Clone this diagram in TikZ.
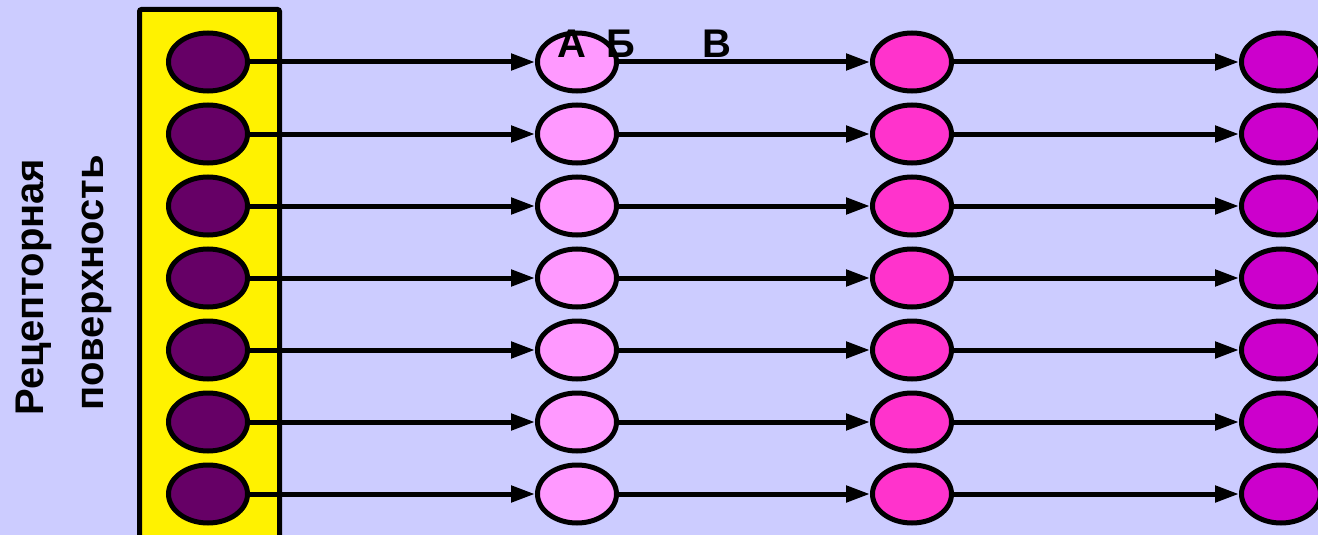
\documentclass[tikz,border=0pt]{standalone}
\usepackage{fontspec}
\setmainfont{Liberation Sans}
\usetikzlibrary{shapes.geometric, arrows.meta}
\definecolor{bgblue}{HTML}{CCCCFF}
\definecolor{plum}{HTML}{660066}
\definecolor{lightpink}{HTML}{FF99FF}
\definecolor{hotpink}{HTML}{FF33CC}
\definecolor{violet}{HTML}{CC00CC}
\tikzstyle{cell} = [ellipse, draw, line width=5pt, minimum width=79pt, minimum height=58pt, inner sep=0pt]
\tikzstyle{conn} = [-{Triangle[length=24pt,width=16pt]}, line width=5pt]
\tikzstyle{lbl} = [font=\fontsize{40}{48}\selectfont\bfseries, inner sep=0pt]

\begin{document}
\begin{tikzpicture}[x=1pt, y=-1pt]
  % background
  \fill[bgblue] (0,0) rectangle (1318,535);
  \useasboundingbox (0,0) rectangle (1318,535);

  % receptor strip
  \draw[line width=5pt, fill=yellow, rounded corners=2pt] (139.5,9.5) rectangle (279.5,550);

  % cells, one row per level
  \foreach \i [evaluate=\i as \yy using 62+72*(\i-1)] in {1,...,7} {
    \node[cell, fill=plum] (r\i) at (208,\yy) {};
    \node[cell, fill=lightpink] (a\i) at (577,\yy) {};
    \node[cell, fill=hotpink] (b\i) at (912,\yy) {};
    \node[cell, fill=violet] (c\i) at (1281,\yy) {};
  }

  % pathways
  \foreach \i in {1,...,7} {
    \draw[conn] (r\i) -- (a\i);
    \draw[conn] (a\i) -- (b\i);
    \draw[conn] (b\i) -- (c\i);
  }

  % letters
  \node[lbl, anchor=base] (la) at (572,58) {А};
  \node[lbl, anchor=base] (lb) at (621,58) {Б};
  \node[lbl, anchor=base] (lv) at (717,58) {В};

  % side caption
  \node[lbl, rotate=90, anchor=base] (rec) at (43,287) {Рецепторная};
  \node[lbl, rotate=90, anchor=base] (surf) at (103,283) {поверхность};
\end{tikzpicture}
\end{document}
